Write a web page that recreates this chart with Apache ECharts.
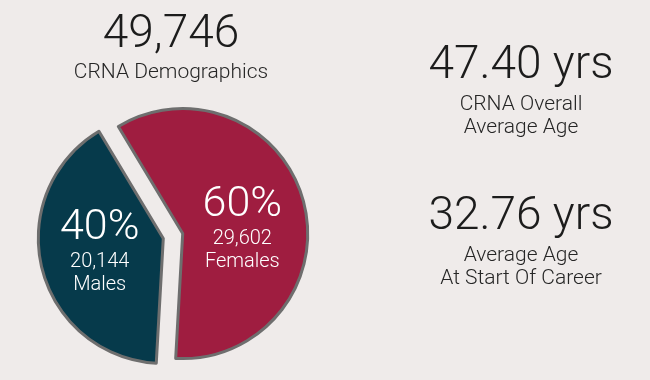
<!DOCTYPE html>
<html>
<head>
<meta charset="utf-8">
<script src="https://cdn.jsdelivr.net/npm/echarts@6/dist/echarts.min.js"></script>
<style>
html,body{margin:0;padding:0;background:#efebea;}
#chart{width:650px;height:380px;}
</style>
</head>
<body>
<div id="chart"></div>
<script>
var categories = ['Females', 'Males'];
var counts = [29602, 20144];
var sliceColors = ['#9f1d40', '#063a4b'];
var totalLabel = 'CRNA Demographics';
var ageValues = [47.40, 32.76];
var ageLabels = ['CRNA Overall\nAverage Age', 'Average Age\nAt Start Of Career'];

var total = counts.reduce(function (a, b) { return a + b; }, 0);
var FONT = 'Roboto, "Noto Sans", sans-serif';
var labelShiftX = [-4, 0];
var labelShiftY = [10, -3];

function fmt(n) { return n.toLocaleString('en-US'); }

var chart = echarts.init(document.getElementById('chart'));
chart.setOption({
  backgroundColor: '#efebea',
  animation: false,
  title: [
    { text: fmt(total), subtext: totalLabel, left: 166, top: 7, textAlign: 'center', itemGap: 4,
      textStyle: { fontFamily: FONT, fontWeight: 300, fontSize: 46, color: '#1c1c1c' },
      subtextStyle: { fontFamily: FONT, fontWeight: 300, fontSize: 21, color: '#262626' } },
    { text: ageValues[0].toFixed(2) + ' yrs', subtext: ageLabels[0], left: 516, top: 38, textAlign: 'center', itemGap: 4,
      textStyle: { fontFamily: FONT, fontWeight: 300, fontSize: 46, color: '#1c1c1c' },
      subtextStyle: { fontFamily: FONT, fontWeight: 300, fontSize: 21, lineHeight: 23, color: '#262626' } },
    { text: ageValues[1].toFixed(2) + ' yrs', subtext: ageLabels[1], left: 516, top: 189, textAlign: 'center', itemGap: 4,
      textStyle: { fontFamily: FONT, fontWeight: 300, fontSize: 46, color: '#1c1c1c' },
      subtextStyle: { fontFamily: FONT, fontWeight: 300, fontSize: 21, lineHeight: 23, color: '#262626' } }
  ],
  series: [{
    type: 'pie',
    center: [173, 236],
    radius: [0, 125],
    startAngle: 121,
    clockwise: true,
    selectedMode: 'multiple',
    selectedOffset: 10,
    silent: true,
    itemStyle: { borderColor: '#6e6e6e', borderWidth: 3 },
    label: {
      show: true,
      position: 'inside',
      formatter: function (p) {
        return '{pct|' + Math.round(p.percent) + '%}\n{num|' + fmt(p.value) + '}\n{name|' + p.name + '}';
      },
      rich: {
        pct: { fontFamily: FONT, fontWeight: 300, fontSize: 43, color: '#ffffff', lineHeight: 45 },
        num: { fontFamily: FONT, fontWeight: 300, fontSize: 20, color: '#ffffff', lineHeight: 23 },
        name: { fontFamily: FONT, fontWeight: 300, fontSize: 20, color: '#ffffff', lineHeight: 23 }
      }
    },
    labelLayout: function (params) {
      return { dx: labelShiftX[params.dataIndex], dy: labelShiftY[params.dataIndex] };
    },
    labelLine: { show: false },
    data: categories.map(function (c, i) {
      return { name: c, value: counts[i], selected: true, itemStyle: { color: sliceColors[i] } };
    })
  }]
});
</script>
</body>
</html>
